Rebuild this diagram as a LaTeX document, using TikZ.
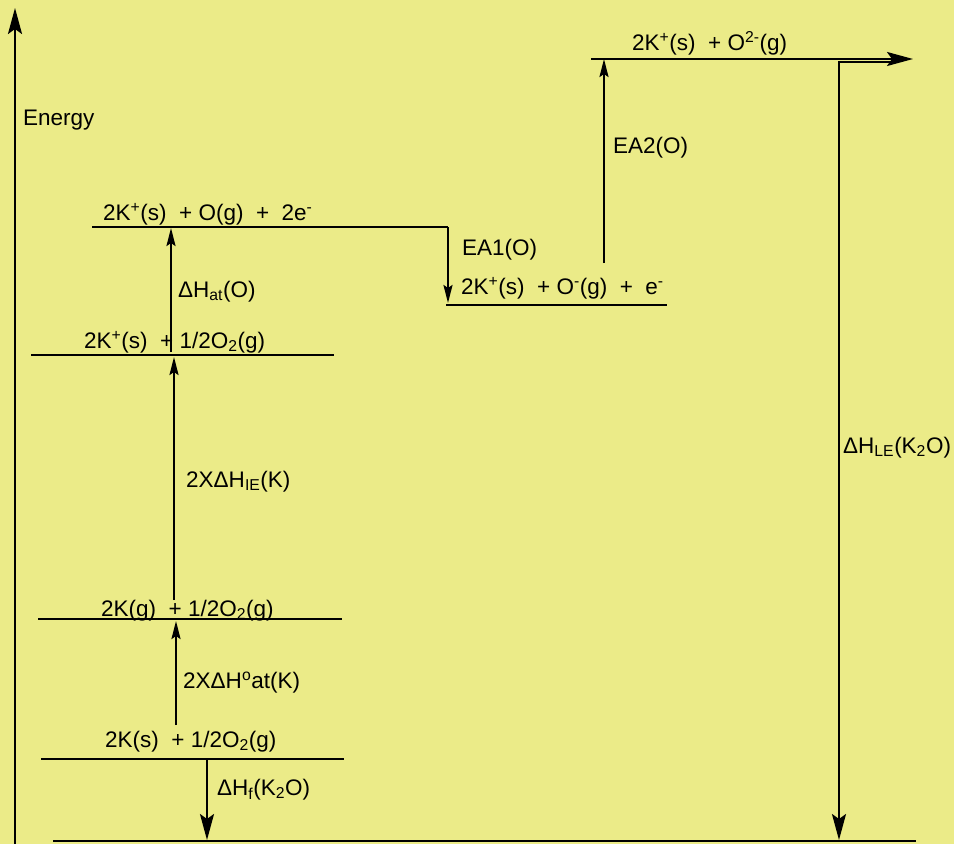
\documentclass[tikz,border=0pt]{standalone}
\usepackage{fontspec}
\setmainfont{Liberation Sans}
\usetikzlibrary{arrows.meta}
\definecolor{bgyellow}{RGB}{235,235,136}
\begin{document}
\begin{tikzpicture}[x=1pt,y=-1pt,
  lvl/.style={line width=2.2pt},
  bigarrow/.style={line width=2.2pt,-{Stealth[length=26pt,width=14pt,inset=5pt]}},
  smallarrow/.style={line width=2.2pt,-{Stealth[length=18pt,width=9pt,inset=3pt]}},
  txt/.style={anchor=base west,inner sep=0pt,font=\fontsize{22.5}{25}\selectfont}]
\fill[bgyellow] (0,0) rectangle (954,844);
\useasboundingbox (0,0) rectangle (954,844);
% coordinates
\coordinate (axB) at (15,844);
\coordinate (axT) at (15,8);
\coordinate (aL) at (591,59);   \coordinate (aR) at (913,59);
\coordinate (bL) at (92,227);   \coordinate (bR) at (448,227);
\coordinate (bD) at (448,303);
\coordinate (cL) at (446,305);  \coordinate (cR) at (667,305);
\coordinate (dL) at (31,355);   \coordinate (dR) at (334,355);
\coordinate (eL) at (38,619);   \coordinate (eR) at (342,619);
\coordinate (fL) at (41,759);   \coordinate (fR) at (344,759);
\coordinate (gL) at (53,841);   \coordinate (gR) at (916,841);
\coordinate (at1) at (171,352); \coordinate (at2) at (171,228);
\coordinate (ie1) at (174,600); \coordinate (ie2) at (174,357);
\coordinate (ak1) at (176,725); \coordinate (ak2) at (176,621);
\coordinate (hf1) at (207,759); \coordinate (hf2) at (207,840);
\coordinate (ea1) at (604,263); \coordinate (ea2) at (604,59);
\coordinate (le1) at (895,62);  \coordinate (le2) at (839,840);
% axis
\draw[bigarrow] (axB) -- (axT);
\node[txt] (energy) at (23,125) {Energy};
% levels
\draw[bigarrow] (aL) -- (aR);
\draw[lvl] (bL) -- (bR);
\draw[smallarrow] (bR) -- (bD);
\draw[lvl] (cL) -- (cR);
\draw[lvl] (dL) -- (dR);
\draw[lvl] (eL) -- (eR);
\draw[lvl] (fL) -- (fR);
\draw[lvl] (gL) -- (gR);
% arrows
\draw[smallarrow] (at1) -- (at2);
\draw[smallarrow] (ie1) -- (ie2);
\draw[smallarrow] (ak1) -- (ak2);
\draw[bigarrow] (hf1) -- (hf2);
\draw[smallarrow] (ea1) -- (ea2);
\draw[bigarrow] (le1) -| (le2);
% level texts
\node[txt] (ta) at (632,50) {2K\textsuperscript{+}(s)\ \ + O\textsuperscript{2-}(g)};
\node[txt] (tb) at (103,220) {2K\textsuperscript{+}(s)\ \ + O(g)\ \ +\ \ 2e\textsuperscript{-}};
\node[txt] (tc) at (461,294) {2K\textsuperscript{+}(s)\ \ + O\textsuperscript{-}(g)\ \ +\ \ e\textsuperscript{-}};
\node[txt] (td) at (84,348) {2K\textsuperscript{+}(s)\ \ + 1/2O\textsubscript{2}(g)};
\node[txt] (te) at (101,616) {2K(g)\ \ + 1/2O\textsubscript{2}(g)};
\node[txt] (tf) at (105,747) {2K(s)\ \ + 1/2O\textsubscript{2}(g)};
% step labels
\node[txt] (lea1) at (462,255) {EA1(O)};
\node[txt] (lea2) at (613,153) {EA2(O)};
\node[txt] (lat) at (178,297) {ΔH\textsubscript{at}(O)};
\node[txt] (lie) at (186,487) {2XΔH\textsubscript{IE}(K)};
\node[txt] (lak) at (183,688) {2XΔH\textsuperscript{o}at(K)};
\node[txt] (lhf) at (217,795) {ΔH\textsubscript{f}(K\textsubscript{2}O)};
\node[txt] (lle) at (843,453) {ΔH\textsubscript{LE}(K\textsubscript{2}O)};
\end{tikzpicture}
\end{document}
